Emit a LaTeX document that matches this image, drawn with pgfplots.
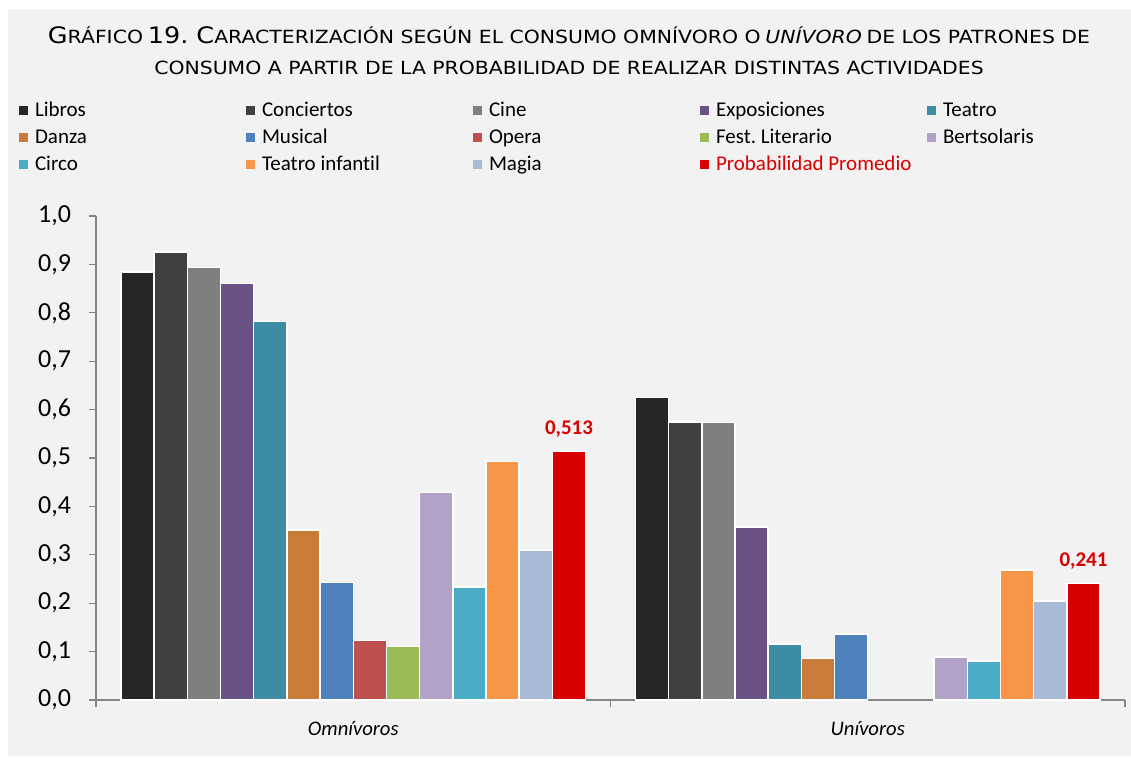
\documentclass[border=0pt]{standalone}
\usepackage{fontspec}
\setmainfont{Carlito}[Ligatures=NoCommon]
\newfontfamily\titlefont{DejaVu Sans}[FakeStretch=1.125]
\usepackage{pgfplots}
\pgfplotsset{compat=1.18}
\frenchspacing
\definecolor{bg}{HTML}{F2F2F2}
\definecolor{axisgray}{HTML}{868686}
\definecolor{cLib}{HTML}{262626}
\definecolor{cCon}{HTML}{404040}
\definecolor{cCin}{HTML}{7F7F7F}
\definecolor{cExp}{HTML}{6A5186}
\definecolor{cTea}{HTML}{3C8DA3}
\definecolor{cDan}{HTML}{CA7A39}
\definecolor{cMus}{HTML}{4F81BD}
\definecolor{cOpe}{HTML}{C0504D}
\definecolor{cFes}{HTML}{9BBB59}
\definecolor{cBer}{HTML}{B3A2C7}
\definecolor{cCir}{HTML}{4BACC6}
\definecolor{cTin}{HTML}{F79646}
\definecolor{cMag}{HTML}{A9BAD7}
\definecolor{cPro}{HTML}{D90000}
\newcommand\BC[1]{{\fontsize{17pt}{20pt}\selectfont #1}}
\newcommand\SC[1]{{\fontsize{13.6pt}{16pt}\selectfont #1}}
\newcommand\LE[1]{\makebox[158.25pt][l]{#1}}
\begin{document}
\begin{tikzpicture}
\fill[white] (0,0) rectangle (848.25pt,568.5pt);
\fill[bg] (6pt,1.5pt) rectangle (848.25pt,561.75pt);
\node[anchor=base, inner sep=0pt] at (426.75pt,536pt) {\titlefont \BC{G}\SC{RÁFICO} \BC{19. C}\SC{ARACTERIZACIÓN SEGÚN EL CONSUMO OMNÍVORO O} \textit{\SC{UNÍVORO}} \SC{DE LOS PATRONES DE}};
\node[anchor=base, inner sep=0pt] at (426.75pt,512.25pt) {\titlefont \SC{CONSUMO A PARTIR DE LA PROBABILIDAD DE REALIZAR DISTINTAS ACTIVIDADES}};
\begin{axis}[
  at={(72pt,43.5pt)}, anchor=south west, scale only axis,
  width=771.75pt, height=363pt,
  xmin=0, xmax=2, ymin=0, ymax=1,
  axis lines*=left,
  axis line style={draw=axisgray, line width=1pt},
  tick align=outside, major tick length=5.5pt,
  tick style={draw=axisgray, line width=1pt},
  ytick={0,0.1,0.2,0.3,0.4,0.5,0.6,0.7,0.8,0.9,1},
  yticklabel style={font=\fontsize{19.5pt}{22pt}\selectfont, inner sep=0pt, xshift=-13pt,
    /pgf/number format/.cd, fixed, fixed zerofill, precision=1, use comma, assume math mode=true},
  xtick={0,1,2}, xticklabels={},
  extra x ticks={0.5,1.5},
  extra x tick labels={Omnívoros,Unívoros},
  extra x tick style={tick style={draw=none},
    xticklabel style={font=\itshape\fontsize{15.5pt}{18pt}\selectfont, anchor=base, inner sep=0pt, yshift=-20.75pt}},
  every axis plot/.append style={ybar, bar width=0.0645, bar shift=0pt, draw=white, line width=1.1pt},
  legend columns=5, legend cell align=left,
  legend image code/.code={\fill[#1,draw=none] (0pt,-2.7pt) rectangle (6.75pt,4.05pt);},
  legend style={at={(-0.0748,1.236)}, anchor=north west, draw=none, fill=none,
    inner sep=0pt, outer sep=0pt, column sep=0pt, row sep=6.25pt,
    nodes={inner sep=0pt, outer sep=0pt, text height=11pt, text depth=3pt,
      font=\fontsize{15.75pt}{18pt}\selectfont},
    /tikz/every odd column/.append style={column sep=5.25pt}},
]
\addplot[fill=cLib] coordinates {(0.08075,0.884) (1.08075,0.625)};
\addlegendentry{\LE{Libros}}
\addplot[fill=cCon] coordinates {(0.14525,0.926) (1.14525,0.574)};
\addlegendentry{\LE{Conciertos}}
\addplot[fill=cCin] coordinates {(0.20975,0.894) (1.20975,0.573)};
\addlegendentry{\LE{Cine}}
\addplot[fill=cExp] coordinates {(0.27425,0.860) (1.27425,0.357)};
\addlegendentry{\LE{Exposiciones}}
\addplot[fill=cTea] coordinates {(0.33875,0.782) (1.33875,0.116)};
\addlegendentry{\LE{Teatro}}
\addplot[fill=cDan] coordinates {(0.40325,0.351) (1.40325,0.086)};
\addlegendentry{\LE{Danza}}
\addplot[fill=cMus] coordinates {(0.46775,0.243) (1.46775,0.136)};
\addlegendentry{\LE{Musical}}
\addplot[fill=cOpe] coordinates {(0.53225,0.123)};
\addlegendentry{\LE{Opera}}
\addplot[fill=cFes] coordinates {(0.59675,0.111)};
\addlegendentry{\LE{Fest. Literario}}
\addplot[fill=cBer] coordinates {(0.66125,0.429) (1.66125,0.089)};
\addlegendentry{\LE{Bertsolaris}}
\addplot[fill=cCir] coordinates {(0.72575,0.233) (1.72575,0.081)};
\addlegendentry{\LE{Circo}}
\addplot[fill=cTin] coordinates {(0.79025,0.493) (1.79025,0.269)};
\addlegendentry{\LE{Teatro infantil}}
\addplot[fill=cMag] coordinates {(0.85475,0.310) (1.85475,0.205)};
\addlegendentry{\LE{Magia}}
\addplot[fill=cPro, point meta=y, nodes near coords,
  nodes near coords style={font=\bfseries\fontsize{15.7pt}{18pt}\selectfont, text=cPro, anchor=base, inner sep=0pt, yshift=12.75pt,
    /pgf/number format/.cd, fixed, fixed zerofill, precision=3, use comma, assume math mode=true}]
  coordinates {(0.91925,0.513) (1.91925,0.241)};
\addlegendentry{\LE{\textcolor{cPro}{Probabilidad Promedio}}}
\end{axis}
\pgfresetboundingbox
\path[use as bounding box] (0,0) rectangle (848.25pt,568.5pt);
\end{tikzpicture}
\end{document}
